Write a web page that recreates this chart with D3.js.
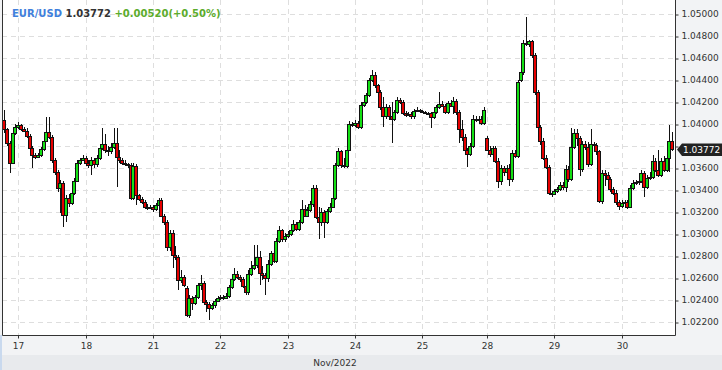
<!DOCTYPE html>
<html>
<head>
<meta charset="utf-8">
<script src="https://cdn.jsdelivr.net/npm/d3@7"></script>
<style>
  body { margin: 0; background: #fff; }
  svg { display: block; font-family: "DejaVu Sans", sans-serif; }
</style>
</head>
<body>
<div id="chart"></div>
<script>
'use strict'

// EUR/USD hourly candles, 16 Nov (evening) .. 30 Nov 2022
let symbol = 'EUR/USD';
let monthLabel = 'Nov/2022';

let dayLabels = ['17','18','21','22','23','24','25','28','29','30'];
let dayStart  = [6, 30, 54, 78, 102, 126, 150, 173, 197, 221];   // candle index where each day begins

let yTicks = [1.022,1.024,1.026,1.028,1.030,1.032,1.034,1.036,1.038,1.040,1.042,1.044,1.046,1.048,1.050];

let open = [
1.0398,1.0404,1.0395,1.0383,1.0365,1.0392,1.0397,1.0399,1.0395,1.0394,
1.0389,1.0378,1.0372,1.0370,1.0372,1.0377,1.0385,1.0393,1.0388,1.0367,
1.0356,1.0342,1.0346,1.0317,1.0333,1.0328,1.0337,1.0348,1.0365,1.0367,
1.0369,1.0365,1.0363,1.0367,1.0364,1.0369,1.0378,1.0382,1.0376,1.0375,
1.0379,1.0383,1.0370,1.0367,1.0365,1.0364,1.0363,1.0333,1.0362,1.0335,
1.0332,1.0329,1.0325,1.0324,1.0325,1.0323,1.0326,1.0331,1.0316,1.0311,
1.0288,1.0301,1.0281,1.0279,1.0258,1.0261,1.0251,1.0226,1.0242,1.0237,
1.0243,1.0254,1.0255,1.0238,1.0236,1.0233,1.0235,1.0239,1.0242,1.0243,
1.0242,1.0244,1.0252,1.0259,1.0264,1.0261,1.0259,1.0253,1.0247,1.0264,
1.0269,1.0272,1.0279,1.0265,1.0263,1.0260,1.0273,1.0283,1.0275,1.0294,
1.0304,1.0295,1.0298,1.0300,1.0304,1.0309,1.0305,1.0311,1.0323,1.0316,
1.0322,1.0327,1.0342,1.0315,1.0311,1.0320,1.0311,1.0321,1.0325,1.0333,
1.0363,1.0375,1.0363,1.0362,1.0376,1.0400,1.0399,1.0401,1.0397,1.0417,
1.0420,1.0426,1.0440,1.0445,1.0435,1.0429,1.0415,1.0407,1.0415,1.0407,
1.0405,1.0411,1.0422,1.0420,1.0410,1.0408,1.0409,1.0407,1.0412,1.0413,
1.0412,1.0411,1.0410,1.0410,1.0406,1.0411,1.0415,1.0418,1.0416,1.0411,
1.0419,1.0416,1.0421,1.0411,1.0395,1.0388,1.0376,1.0373,1.0380,1.0405,
1.0404,1.0405,1.0401,1.0387,1.0376,1.0373,1.0378,1.0366,1.0348,1.0360,
1.0356,1.0360,1.0350,1.0374,1.0371,1.0440,1.0447,1.0474,1.0473,1.0475,
1.0463,1.0429,1.0397,1.0385,1.0369,1.0361,1.0337,1.0336,1.0339,1.0341,
1.0345,1.0343,1.0359,1.0350,1.0379,1.0392,1.0387,1.0359,1.0382,1.0379,
1.0364,1.0382,1.0381,1.0375,1.0330,1.0355,1.0354,1.0350,1.0341,1.0337,
1.0329,1.03252,1.0328,1.0329,1.0325,1.0342,1.0346,1.0347,1.0348,1.0355,
1.0343,1.0351,1.0352,1.0366,1.0358,1.0354,1.0366,1.0358,1.0369,1.0385
];

let close = [
1.0404,1.0395,1.0383,1.0365,1.0392,1.0397,1.0399,1.0395,1.0394,1.0389,
1.0378,1.0372,1.0370,1.0372,1.0377,1.0385,1.0393,1.0388,1.0367,1.0356,
1.0342,1.0346,1.0317,1.0333,1.0328,1.0337,1.0348,1.0365,1.0367,1.0369,
1.0365,1.0363,1.0367,1.0364,1.0369,1.0378,1.0382,1.0376,1.0375,1.0379,
1.0383,1.0370,1.0367,1.0365,1.0364,1.0363,1.0333,1.0362,1.0335,1.0332,
1.0329,1.0325,1.0324,1.0325,1.0323,1.0326,1.0331,1.0316,1.0311,1.0288,
1.0301,1.0281,1.0279,1.0258,1.0261,1.0254,1.0226,1.0242,1.0237,1.0243,
1.0254,1.0255,1.0238,1.0236,1.0233,1.0235,1.0239,1.0242,1.0243,1.0242,
1.0244,1.0252,1.0259,1.0264,1.0261,1.0259,1.0253,1.0247,1.0264,1.0269,
1.0272,1.0279,1.0265,1.0263,1.0260,1.0273,1.0283,1.0275,1.0294,1.0304,
1.0295,1.0298,1.0300,1.0304,1.0309,1.0305,1.0311,1.0323,1.0316,1.0322,
1.0327,1.0342,1.0315,1.0311,1.0320,1.0311,1.0321,1.0325,1.0333,1.0363,
1.0375,1.0363,1.0362,1.0376,1.0400,1.0399,1.0401,1.0397,1.0417,1.0420,
1.0426,1.0440,1.0445,1.0435,1.0429,1.0415,1.0407,1.0415,1.0407,1.0405,
1.0411,1.0422,1.0420,1.0410,1.0408,1.0409,1.0407,1.0412,1.0413,1.0412,
1.0411,1.0410,1.0410,1.0406,1.0411,1.0415,1.0418,1.0416,1.0411,1.0419,
1.0416,1.0421,1.0411,1.0395,1.0388,1.0376,1.0373,1.0380,1.0405,1.0404,
1.0405,1.0401,1.0413,1.0376,1.0373,1.0378,1.0366,1.0348,1.0360,1.0356,
1.0360,1.0350,1.0374,1.0371,1.0438,1.0447,1.0474,1.0473,1.0475,1.0463,
1.0429,1.0397,1.0385,1.0369,1.0361,1.0337,1.0336,1.0339,1.0341,1.0345,
1.0343,1.0359,1.0350,1.0379,1.0392,1.0387,1.0359,1.0382,1.0379,1.0364,
1.0382,1.0381,1.0375,1.0330,1.0355,1.0354,1.0350,1.0341,1.0337,1.0329,
1.03252,1.0328,1.0329,1.0325,1.0342,1.0346,1.0347,1.0348,1.0355,1.0343,
1.0351,1.0352,1.0366,1.0358,1.0354,1.0366,1.0358,1.0369,1.0385,1.03772
];

let high = [
1.0407,1.0413,1.0396,1.0385,1.0394,1.0400,1.0402,1.0400,1.0397,1.0396,
1.0391,1.0380,1.0374,1.0374,1.0379,1.0387,1.0406,1.0406,1.0390,1.0369,
1.0358,1.0349,1.0348,1.0335,1.0336,1.0339,1.0351,1.0367,1.0369,1.0372,
1.0371,1.0367,1.0370,1.0369,1.0372,1.0382,1.0396,1.0391,1.0380,1.0383,
1.0396,1.0396,1.0376,1.0369,1.0367,1.0365,1.0365,1.0365,1.0364,1.0336,
1.0334,1.0331,1.0327,1.0326,1.0326,1.0328,1.0333,1.0333,1.0318,1.0313,
1.0304,1.0304,1.0289,1.0281,1.0267,1.0263,1.0253,1.0245,1.0244,1.0245,
1.0255,1.0263,1.0257,1.0240,1.0238,1.0237,1.0241,1.0244,1.0245,1.0245,
1.0246,1.0254,1.0261,1.0269,1.0266,1.0263,1.0261,1.0255,1.0267,1.0275,
1.0290,1.0290,1.0285,1.0271,1.0265,1.0276,1.0285,1.0285,1.0296,1.0307,
1.0305,1.0301,1.0303,1.0305,1.0313,1.0311,1.0313,1.0331,1.0326,1.0325,
1.0330,1.0345,1.0345,1.0325,1.0324,1.0322,1.0323,1.0328,1.0335,1.0365,
1.0378,1.0376,1.0369,1.0379,1.0403,1.0402,1.0404,1.0403,1.0420,1.0423,
1.0428,1.0442,1.0449,1.0447,1.0436,1.0431,1.0425,1.0418,1.0417,1.0420,
1.0413,1.0425,1.0424,1.0422,1.0412,1.0411,1.0411,1.0414,1.0415,1.0414,
1.0413,1.0412,1.0411,1.0411,1.0413,1.0417,1.0429,1.0421,1.0418,1.0421,
1.0422,1.0425,1.0423,1.0413,1.0404,1.0391,1.0378,1.0383,1.0408,1.0407,
1.0407,1.0407,1.0415,1.0389,1.0380,1.0380,1.0380,1.0369,1.0363,1.0362,
1.0363,1.0364,1.0376,1.0376,1.0440,1.0453,1.0476,1.0497,1.0476,1.0476,
1.0465,1.0431,1.0399,1.0387,1.0372,1.0363,1.0339,1.0341,1.0343,1.0347,
1.0347,1.0363,1.0362,1.0396,1.0395,1.0395,1.0389,1.0385,1.0385,1.0384,
1.0395,1.0384,1.0383,1.0376,1.0358,1.0358,1.0356,1.0352,1.0343,1.0340,
1.0331,1.0331,1.0331,1.0331,1.0345,1.0349,1.0349,1.0355,1.0358,1.0357,
1.0354,1.0356,1.0372,1.0369,1.0376,1.0369,1.0371,1.0372,1.0399,1.0393
];

let low = [
1.0396,1.0392,1.0380,1.0355,1.0364,1.0390,1.0395,1.0394,1.0393,1.0387,
1.0376,1.0360,1.0368,1.0369,1.0370,1.0375,1.0384,1.0386,1.0365,1.0354,
1.0338,1.0319,1.0306,1.0311,1.0325,1.0326,1.0335,1.0347,1.0363,1.0366,
1.0363,1.0360,1.0354,1.0360,1.0361,1.0367,1.0376,1.0374,1.0371,1.0373,
1.0377,1.0343,1.0365,1.0363,1.0362,1.0360,1.0331,1.0331,1.0326,1.0330,
1.0327,1.0324,1.0322,1.0323,1.0320,1.0321,1.0325,1.0315,1.0308,1.0285,
1.0285,1.0269,1.0276,1.0249,1.0255,1.0252,1.0225,1.0224,1.0231,1.0235,
1.0241,1.0249,1.0235,1.0229,1.0222,1.0231,1.0233,1.0238,1.0240,1.0240,
1.0241,1.0242,1.0250,1.0257,1.0259,1.0256,1.0251,1.0245,1.0245,1.0262,
1.0267,1.0269,1.0254,1.0258,1.0245,1.0256,1.0271,1.0274,1.0274,1.0292,
1.0293,1.0293,1.0296,1.0298,1.0302,1.0303,1.0303,1.0309,1.0315,1.0315,
1.0320,1.0325,1.0314,1.0295,1.0307,1.0296,1.0309,1.0319,1.0324,1.0331,
1.0361,1.0360,1.0360,1.0360,1.0375,1.0397,1.0397,1.0395,1.0395,1.0415,
1.0418,1.0425,1.0438,1.0433,1.0426,1.0413,1.0397,1.0405,1.0404,1.0383,
1.0403,1.0409,1.0418,1.0408,1.0406,1.0407,1.0405,1.0405,1.0411,1.0410,
1.0410,1.0409,1.0408,1.0396,1.0405,1.0409,1.0414,1.0415,1.0409,1.0409,
1.0415,1.0409,1.0408,1.0383,1.0385,1.0375,1.0361,1.0371,1.0378,1.0402,
1.0403,1.0399,1.0399,1.0375,1.0370,1.0367,1.0365,1.0342,1.0345,1.0353,
1.0355,1.0344,1.0347,1.0369,1.0369,1.0438,1.0445,1.0471,1.0470,1.0460,
1.0426,1.0395,1.0381,1.0367,1.0359,1.0335,1.0334,1.0335,1.0337,1.0339,
1.0340,1.0338,1.0347,1.0348,1.0377,1.0380,1.0353,1.0356,1.0376,1.0361,
1.0362,1.0379,1.0372,1.0328,1.0327,1.0344,1.0348,1.0338,1.0335,1.0326,
1.0322,1.0324,1.0326,1.0323,1.0324,1.0340,1.0345,1.0345,1.0346,1.0334,
1.0341,1.0349,1.0350,1.0356,1.0352,1.0352,1.0356,1.0356,1.0356,1.0375
];

let W = 722, H = 370;
let plot = {left: 2, right: 675, top: 0, bottom: 335};

let candles = close.map(function(c, i) {
  return {i: i, o: open[i], h: high[i], l: low[i], c: c};
});

let x = d3.scaleLinear()
  .domain([dayStart[0], dayStart[dayStart.length - 1]])
  .range([18.3, 621.7]);

let y = d3.scaleLinear()
  .domain([1.022, 1.050])
  .range([322, 14]);

let svg = d3.select('#chart').append('svg')
  .attr('width', W)
  .attr('height', H);

// backgrounds
svg.append('rect').attr('width', W).attr('height', H).attr('fill', '#f2f3f5');
svg.append('rect').attr('y', 355).attr('width', W).attr('height', H - 355).attr('fill', '#e8eaed');
svg.append('rect').attr('x', 0).attr('y', 335).attr('width', 2).attr('height', H - 335).attr('fill', '#c9d9ee');
svg.append('rect')
  .attr('x', plot.left).attr('y', plot.top)
  .attr('width', plot.right - plot.left).attr('height', plot.bottom - plot.top)
  .attr('fill', '#fff');

svg.append('defs').append('clipPath').attr('id', 'plotClip')
  .append('rect')
  .attr('x', plot.left + 1).attr('y', plot.top)
  .attr('width', plot.right - plot.left - 1).attr('height', plot.bottom - plot.top);

// dashed grid
let grid = svg.append('g').attr('stroke', '#dedede').attr('stroke-dasharray', '5,4');
grid.selectAll('.hgrid').data(yTicks).enter().append('line')
  .attr('x1', plot.left).attr('x2', plot.right)
  .attr('y1', function(d) { return Math.round(y(d)) + 0.5; })
  .attr('y2', function(d) { return Math.round(y(d)) + 0.5; });
grid.selectAll('.vgrid').data(dayStart).enter().append('line')
  .attr('y1', plot.top).attr('y2', plot.bottom)
  .attr('x1', function(d) { return Math.round(x(d)) + 0.5; })
  .attr('x2', function(d) { return Math.round(x(d)) + 0.5; });

// candles
let cg = svg.append('g').attr('clip-path', 'url(#plotClip)');
let candle = cg.selectAll('.candle').data(candles).enter().append('g').attr('class', 'candle');

candle.append('line')
  .attr('x1', function(d) { return Math.round(x(d.i)) + 0.5; })
  .attr('x2', function(d) { return Math.round(x(d.i)) + 0.5; })
  .attr('y1', function(d) { return Math.round(y(d.h)); })
  .attr('y2', function(d) { return Math.round(y(d.l)); })
  .attr('stroke', '#111');

candle.append('rect')
  .attr('x', function(d) { return Math.round(x(d.i)) - 1.5; })
  .attr('width', 3)
  .attr('y', function(d) { return Math.round(y(Math.max(d.o, d.c))) + 0.5; })
  .attr('height', function(d) { return Math.max(1, Math.round(y(Math.min(d.o, d.c))) - Math.round(y(Math.max(d.o, d.c)))); })
  .attr('fill', function(d) { return d.c >= d.o ? '#14e014' : '#e60000'; })
  .attr('stroke', '#111');

// frame
svg.append('path')
  .attr('d', 'M' + (plot.left + 0.5) + ',0V' + (plot.bottom + 0.5) + 'H' + (plot.right + 0.5) + 'V0')
  .attr('fill', 'none')
  .attr('stroke', '#333');

// axes
let last = close[close.length - 1];
let yAxis = svg.append('g')
  .attr('transform', 'translate(' + (plot.right + 0.5) + ',0)')
  .call(d3.axisRight(y).tickValues(yTicks).tickSize(3).tickPadding(3).tickFormat(d3.format('.5f')));
let xAxis = svg.append('g')
  .attr('transform', 'translate(0,' + (plot.bottom + 0.5) + ')')
  .call(d3.axisBottom(x).tickValues(dayStart).tickSize(3).tickPadding(4)
    .tickFormat(function(d, i) { return dayLabels[i]; }));

[yAxis, xAxis].forEach(function(a) {
  a.select('.domain').remove();
  a.selectAll('line').attr('stroke', '#333');
  a.selectAll('text').attr('fill', '#333').style('font-size', '9px').style('font-family', '"DejaVu Sans", sans-serif');
});
yAxis.selectAll('.tick line').attr('y1', 0.5).attr('y2', 0.5);
// the label under the last price tag is hidden by it
yAxis.selectAll('.tick').filter(function(d) { return Math.abs(y(d) - y(last)) < 9; }).select('text').remove();
xAxis.selectAll('.tick').attr('transform', function(d) { return 'translate(' + (Math.round(x(d)) + 0.5) + ',0)'; });

svg.append('text')
  .attr('x', 335).attr('y', 366)
  .attr('text-anchor', 'middle')
  .attr('fill', '#333')
  .style('font-size', '9px')
  .text(monthLabel);

// last price tag
let ty = Math.round(y(last));
svg.append('path')
  .attr('d', 'M677,' + (ty + 0.5) + 'L682,' + (ty - 5.5) + 'H722V' + (ty + 7) + 'H682Z')
  .attr('fill', '#222');
svg.append('text')
  .attr('x', 683).attr('y', ty + 4)
  .attr('fill', '#fff')
  .style('font-size', '9px')
  .text(last.toFixed(5));

// header: symbol, last price, change against previous day close
let prevClose = close[dayStart[dayStart.length - 1] - 1];
let chg = last - prevClose;
let pct = chg / prevClose * 100;
let title = svg.append('text')
  .attr('x', 12).attr('y', 16.5)
  .style('font-size', '10px')
  .style('font-weight', 'bold');
title.append('tspan').attr('fill', '#3f7fdc').text(symbol + ' ');
title.append('tspan').attr('fill', '#333').text(last.toFixed(5) + ' ');
title.append('tspan').attr('fill', '#5cac2c')
  .text((chg >= 0 ? '+' : '') + chg.toFixed(5) + '(' + (pct >= 0 ? '+' : '') + pct.toFixed(2) + '%)');
</script>
</body>
</html>
